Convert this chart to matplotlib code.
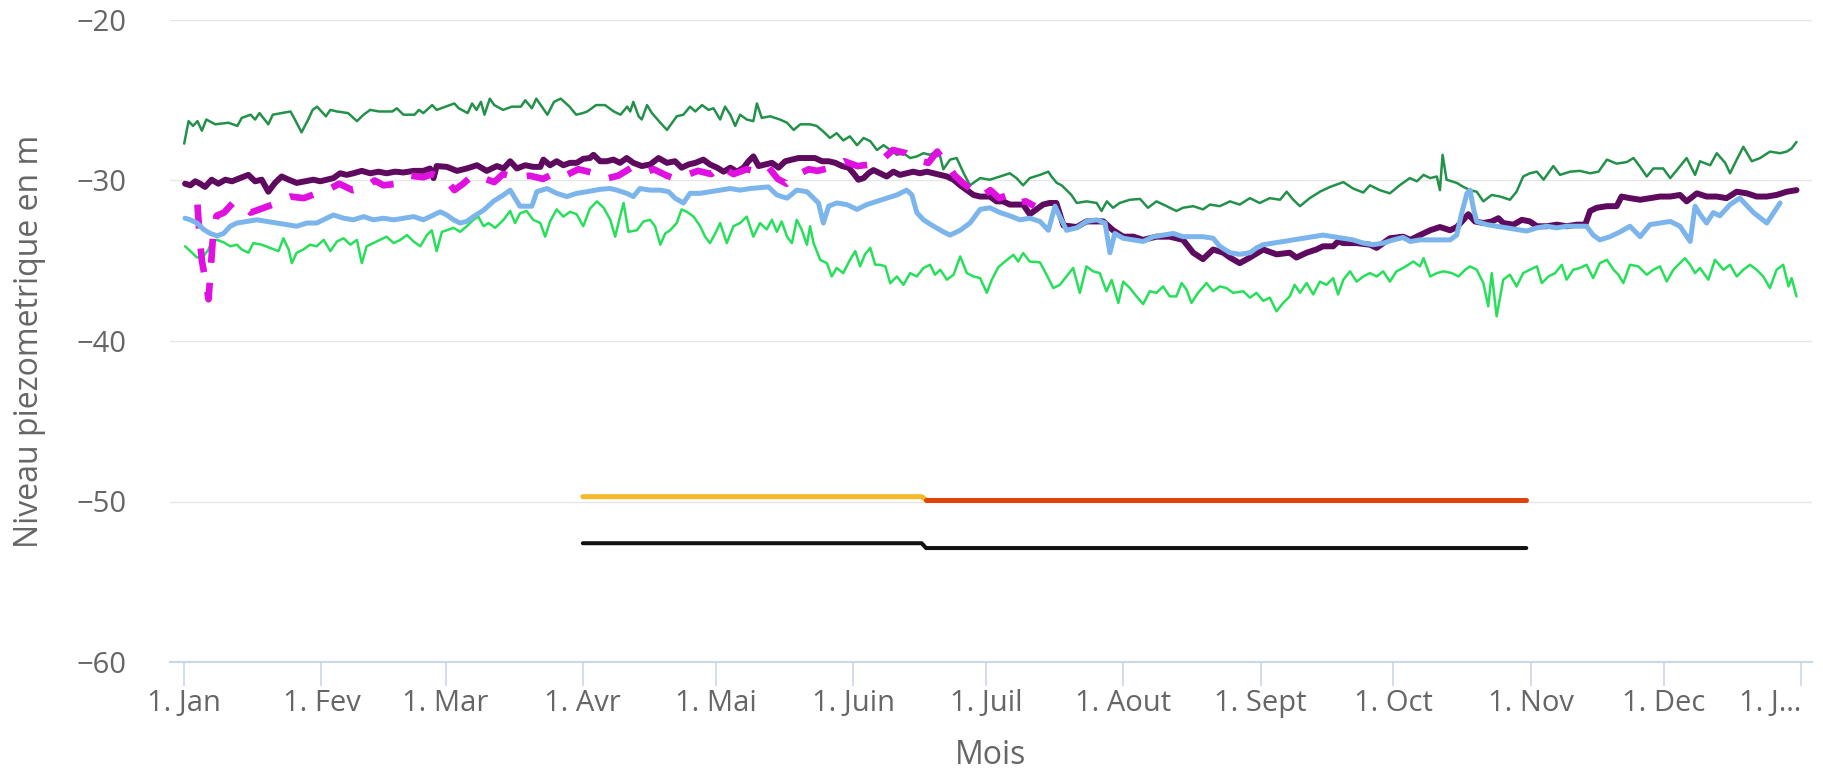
import numpy as np
import matplotlib
matplotlib.use("Agg")
import matplotlib.pyplot as plt

plt.rcParams['font.family'] = ['Open Sans', 'DejaVu Sans']

#### month ticks (day of year) and labels
month_days = [0, 31, 59, 90, 120, 151, 181, 212, 243, 273, 304, 334, 365]
month_labels = ["1. Jan", "1. Fev", "1. Mar", "1. Avr", "1. Mai", "1. Juin", "1. Juil",
                "1. Aout", "1. Sept", "1. Oct", "1. Nov", "1. Dec", "1. J\u2026"]
y_ticks = [-60, -50, -40, -30, -20]

#### upper envelope (dark green)
max_days = [0, 1, 2, 3, 4, 5, 7, 10, 12, 13, 15, 16, 17, 19, 20, 22, 24, 25, 26.5, 28, 29, 30, 32, 33,
            34.5, 37, 39, 40.5, 42, 44, 47, 48, 49.5, 52, 53, 54, 56, 57, 59, 61, 62, 64, 65, 66, 67,
            67.8, 69, 70, 72, 74, 76, 77, 78.5, 79.5, 80.5, 82, 83.5, 85, 87, 88.5, 90, 91, 93, 95, 97,
            98.5, 100, 100.7, 101.4, 102.6, 103.3, 104.5, 105.6, 107.5, 109, 111.2, 112.7, 114.2, 115.4,
            116.9, 118.4, 119.5, 121, 122.1, 123.3, 124.4, 125.5, 127, 128.5, 129.3, 130.4, 132.3, 134.5,
            136.1, 137.6, 139.1, 141.3, 142.8, 144.3, 145.8, 147.3, 148.8, 150.3, 151.9, 153.4, 154.9,
            156.4, 157.9, 159.4, 160.9, 162.4, 163.9, 165.4, 166.9, 168.4, 170.3, 171.4, 172.9, 174.4,
            175.9, 177.4, 179.7, 181.9, 184.2, 186.4, 187.9, 189.4, 190.9, 193.2, 195.1, 195.8, 197,
            198.1, 199.2, 200.3, 201.5, 203.7, 206, 207.1, 208.3, 209.7, 211.2, 213.5, 215.8, 217.6,
            219.5, 221.8, 224, 225.5, 227.8, 230, 231.6, 233.8, 236.1, 238.3, 240.6, 242.8, 245.1,
            247.4, 248.9, 250.4, 251.9, 254.1, 256.4, 258.7, 261.7, 263.9, 266.2, 267.7, 269.9, 272.2,
            274.4, 276.7, 278.3, 279.8, 281.3, 282.8, 283.5, 284.1, 285, 287.3, 288.8, 290.3, 291.8,
            293.3, 295.2, 297.1, 299.3, 300.8, 302.3, 303.8, 305.4, 306.9, 309.1, 310.6, 312.9, 315.1,
            317.4, 319.3, 321.2, 323.4, 325.7, 327.2, 328.7, 330.2, 331.7, 333.9, 335.5, 337, 339.2,
            341.1, 342.2, 344.5, 346, 347.9, 349, 350.5, 352, 353.9, 355.8, 358, 360.3, 361.8, 362.9, 364]
max_vals = [-27.7, -26.3, -26.6, -26.3, -26.9, -26.2, -26.5, -26.4, -26.6, -26.1, -25.9, -26.2, -25.8,
            -26.5, -25.9, -25.8, -25.7, -26.2, -27.0, -26.2, -25.6, -25.4, -26.0, -25.6, -25.7, -25.8,
            -26.3, -25.9, -25.6, -25.7, -25.7, -25.5, -25.9, -25.9, -25.6, -25.8, -25.3, -25.6, -25.4,
            -25.2, -25.5, -25.8, -25.2, -25.6, -25.1, -25.9, -24.9, -25.3, -25.6, -25.4, -25.4, -25.0,
            -25.5, -24.9, -25.3, -25.9, -25.1, -24.9, -25.4, -25.9, -25.8, -25.7, -25.3, -25.3, -25.7,
            -25.9, -25.4, -25.7, -25.1, -26.0, -26.2, -25.3, -25.8, -26.4, -26.85, -26.0, -25.9, -25.4,
            -25.7, -25.3, -25.6, -25.5, -26.2, -25.4, -25.9, -26.6, -25.9, -26.2, -26.3, -25.2, -26.1,
            -26.0, -26.2, -26.4, -26.85, -26.5, -26.5, -26.6, -26.95, -27.35, -27.05, -27.5, -27.25,
            -27.8, -27.35, -27.55, -28.1, -27.8, -28.1, -28.4, -28.3, -28.6, -28.5, -28.3, -28.4, -28.1,
            -29.3, -28.7, -28.6, -29.5, -30.3, -29.85, -29.95, -29.75, -29.55, -29.85, -30.3, -29.85,
            -29.65, -29.45, -29.75, -30.15, -30.3, -30.6, -30.9, -31.4, -31.3, -31.4, -31.9, -31.3,
            -31.7, -31.4, -31.2, -31.15, -31.7, -31.3, -31.6, -31.9, -31.7, -31.6, -31.8, -31.5, -31.6,
            -31.3, -31.5, -31.1, -31.4, -31.1, -31.2, -30.7, -31.2, -31.6, -31.1, -30.7, -30.4, -30.1,
            -30.5, -30.75, -30.3, -30.6, -30.8, -30.3, -29.85, -30.05, -29.65, -29.85, -29.75, -30.6,
            -28.4, -29.95, -30.15, -30.4, -30.6, -30.7, -31.3, -30.9, -31.0, -31.2, -30.7, -29.75,
            -29.55, -29.45, -29.95, -29.1, -29.65, -29.45, -29.4, -29.55, -29.45, -28.7, -28.95, -28.85,
            -28.6, -29.15, -29.75, -29.25, -29.25, -29.85, -29.35, -28.6, -29.65, -28.8, -29.05, -28.3,
            -28.9, -29.55, -28.7, -27.9, -28.8, -28.6, -28.2, -28.3, -28.2, -28.0, -27.6]

#### lower envelope (bright green)
min_days = [0.2, 1.4, 2.9, 4.4, 5.5, 6.2, 7.4, 8.9, 10.4, 11.9, 13, 14.5, 15.6, 17.5, 19.4, 21.3, 22.4,
            23.6, 24.3, 25.4, 26.9, 28.4, 29.9, 31.5, 33, 34.5, 36, 37.5, 39, 40.1, 41.2, 42.7, 44.2,
            45.7, 47.3, 48.8, 50.3, 51.8, 53.3, 54.8, 55.9, 57, 58.2, 59.3, 60.8, 62.3, 63.8, 65.3, 66.4,
            67.6, 68.7, 70.2, 72.1, 73.6, 74.7, 75.8, 77.3, 78.8, 80.4, 81.5, 82.6, 84.1, 85.6, 87.1,
            88.6, 90.1, 91.6, 93.2, 94.7, 96.2, 97.3, 98.4, 99.2, 100.3, 102.2, 103.7, 105.2, 106.3,
            107.5, 108.6, 109.7, 111.2, 112.3, 113.5, 115, 116.5, 117.6, 118.7, 119.9, 121, 122.5, 124,
            125.5, 127, 128.5, 130, 131.5, 132.7, 133.8, 134.9, 136.1, 137.2, 138.3, 139.4, 140.6, 141.3,
            142.1, 143.6, 145.1, 146.2, 147.3, 148.8, 150.3, 151.5, 152.6, 153.7, 154.9, 156, 157.1,
            158.3, 159.4, 160.9, 162.4, 163.9, 165.4, 166.9, 168.4, 169.5, 170.7, 172.2, 173.7, 175.2,
            176.7, 178.2, 179.7, 181.2, 182.3, 183.8, 185.3, 187.2, 188.3, 189.4, 190.9, 193.2, 194.7,
            196.2, 197.7, 199.2, 200.7, 202.2, 203.7, 205.2, 206.7, 208.2, 209.4, 210.9, 212, 213.5, 215,
            216.5, 218, 219.5, 221, 222.5, 224, 225.2, 226.3, 227.4, 228.9, 230.8, 232.3, 233.8, 235.3,
            236.8, 239.1, 240.6, 242.1, 243.6, 245.1, 246.6, 248.1, 249.6, 250.7, 251.9, 253.4, 254.9,
            256.4, 257.9, 259.4, 260.5, 261.7, 263.2, 264.7, 266.2, 267.7, 269.2, 270.7, 272.2, 273.7,
            275.2, 277.5, 279, 279.8, 281.3, 282.8, 284.3, 286.2, 287.7, 289.2, 290.3, 291.8, 293.3,
            294.4, 295.2, 296.3, 297.8, 299.3, 300.8, 302.3, 303.8, 305.4, 306.5, 308, 309.5, 311, 312.1,
            313.6, 315.1, 316.6, 318.1, 319.6, 321.2, 322.7, 323.8, 324.9, 326.4, 328.3, 330.2, 331.7,
            333.2, 334.7, 336.2, 337.7, 338.8, 340, 341.1, 342.2, 344.1, 345.6, 347.5, 349, 350.5, 352,
            353.5, 355, 356.5, 358, 359.5, 361, 362.2, 362.9, 364]
min_vals = [-34.1, -34.4, -34.8, -34.7, -34.3, -33.8, -33.7, -33.85, -34.1, -34.0, -34.3, -34.5, -33.9,
            -34.0, -34.2, -34.4, -33.6, -34.3, -35.15, -34.5, -34.3, -34.0, -34.1, -33.7, -34.4, -33.8,
            -33.6, -34.0, -33.7, -35.15, -34.1, -33.9, -33.7, -33.5, -33.9, -33.7, -33.4, -33.8, -34.1,
            -33.4, -33.1, -34.4, -33.2, -33.1, -32.95, -33.2, -32.85, -32.45, -32.25, -32.85, -32.65,
            -32.95, -32.45, -31.9, -32.65, -32.05, -31.9, -32.45, -32.65, -33.5, -32.55, -31.8, -32.25,
            -31.95, -32.1, -32.85, -31.75, -31.3, -31.7, -32.45, -33.5, -32.25, -31.4, -33.2, -33.1,
            -32.55, -32.45, -32.85, -34.0, -33.3, -33.1, -32.65, -31.8, -31.95, -32.25, -32.85, -33.5,
            -33.9, -33.3, -32.65, -33.9, -32.85, -32.65, -32.25, -33.5, -32.65, -33.05, -32.45, -33.2,
            -32.55, -33.5, -33.9, -32.45, -33.05, -34.0, -32.85, -33.9, -34.95, -35.15, -35.98, -35.45,
            -35.77, -34.95, -34.4, -35.35, -34.6, -34.2, -35.25, -35.25, -35.35, -36.4, -35.98, -36.5,
            -35.77, -35.98, -35.45, -35.25, -35.87, -35.56, -36.18, -35.87, -34.73, -35.77, -35.98,
            -36.08, -37.0, -36.2, -35.4, -35.05, -34.63, -35.05, -34.52, -35.05, -35.1, -35.87, -36.7,
            -36.5, -35.98, -35.45, -37.0, -35.35, -35.66, -35.77, -36.9, -36.2, -37.63, -36.3, -36.7,
            -37.22, -37.7, -36.9, -37.0, -36.6, -37.22, -37.22, -36.39, -36.8, -37.63, -37.0, -36.39,
            -36.9, -36.6, -36.7, -37.0, -36.9, -37.3, -37.0, -37.5, -37.3, -38.15, -37.63, -37.22, -36.5,
            -37.0, -36.39, -37.1, -36.3, -36.5, -36.08, -37.1, -36.18, -35.66, -36.3, -35.98, -35.77,
            -35.98, -35.66, -36.3, -35.66, -35.45, -35.05, -35.35, -34.84, -35.98, -35.77, -35.66, -35.77,
            -35.98, -35.56, -35.35, -35.56, -36.39, -37.84, -35.77, -38.46, -36.18, -35.87, -36.6, -35.77,
            -35.56, -35.35, -36.39, -35.98, -35.77, -35.25, -36.18, -35.56, -35.45, -35.25, -36.08,
            -35.15, -34.94, -35.56, -35.87, -36.39, -35.25, -35.35, -35.87, -35.56, -35.35, -36.29,
            -35.56, -35.15, -34.84, -35.25, -35.77, -35.45, -36.18, -34.94, -35.56, -35.25, -35.98,
            -35.56, -35.25, -35.56, -35.98, -36.7, -35.56, -35.25, -36.6, -36.08, -37.22]

#### mean level (dark purple)
mean_days = [0.2, 1.4, 2.5, 3.6, 4.7, 6.2, 7.7, 9.3, 10.8, 12.6, 14.5, 16, 17.5, 19, 20.5, 22, 23.6,
             25.4, 27.3, 29.2, 30.7, 32.2, 33.7, 35.2, 36.7, 38.2, 40.1, 42, 43.9, 45.7, 47.6, 49.5,
             51.8, 54, 55.5, 56.3, 57, 59.3, 61.6, 63.8, 66.1, 68.3, 70.6, 72.1, 73.6, 75.1, 77, 78.8,
             80.4, 81.1, 82.6, 84.1, 85.6, 87.1, 88.6, 90.1, 91.6, 92.4, 93.9, 95.4, 96.9, 98.4, 99.9,
             101.4, 103.3, 105.2, 107.1, 109, 110.8, 112.3, 113.9, 115.4, 117.2, 118.7, 120.3, 121.8,
             123.3, 124.8, 126.3, 127.4, 128.5, 129.7, 131.2, 132.7, 134.2, 135.7, 137.2, 138.7, 140.6,
             142.4, 144, 145.5, 147, 148.5, 150, 151.1, 152.2, 153.4, 154.5, 155.6, 157.1, 158.6, 160.1,
             161.6, 163.1, 164.6, 166.1, 167.7, 169.2, 170.7, 172.2, 173.7, 175.2, 176.7, 178.2, 179.7,
             181.9, 183.4, 184.9, 186.4, 187.9, 189.4, 190.9, 192.4, 193.9, 195.4, 196.9, 198.5, 201.5,
             203.7, 207.5, 209.7, 212, 214.3, 216.5, 219.5, 222.5, 225.5, 227.8, 230, 232.3, 234.6,
             236.1, 238.3, 240.6, 243.6, 246.6, 249.6, 251.1, 253.4, 255.6, 257.1, 259.4, 260.5, 261.7,
             264.7, 267.7, 269.2, 272.2, 275.2, 276.8, 279, 281.3, 283.5, 285.8, 287.3, 288.8, 289.9,
             291.4, 293.3, 295.2, 296.7, 297.8, 300.1, 302, 303.8, 305.4, 307.6, 309.9, 312.1, 314.4,
             316.3, 317.4, 318.9, 321.2, 323.4, 324.5, 326.4, 328.7, 330.9, 333.2, 335.5, 337.7, 339.2,
             341.5, 343.7, 346, 348.2, 350.5, 352.8, 355, 357.3, 359.5, 361.8, 364]
mean_vals = [-30.2, -30.3, -30.05, -30.2, -30.4, -29.95, -30.2, -29.95, -30.05, -29.85, -29.65, -30.05,
             -29.95, -30.7, -30.15, -29.75, -29.95, -30.15, -30.05, -29.95, -30.05, -29.95, -29.85,
             -29.55, -29.65, -29.55, -29.4, -29.55, -29.45, -29.55, -29.45, -29.5, -29.4, -29.4, -29.25,
             -29.85, -29.1, -29.15, -29.4, -29.25, -29.05, -29.4, -29.1, -29.25, -28.8, -29.25, -29.05,
             -29.15, -29.15, -28.7, -29.05, -28.8, -29.05, -28.9, -28.9, -28.65, -28.6, -28.4, -28.8,
             -28.8, -28.7, -28.9, -28.6, -28.9, -29.1, -29.0, -28.6, -28.9, -28.8, -29.2, -29.0, -28.9,
             -28.7, -29.0, -29.2, -29.45, -29.2, -29.45, -29.2, -28.8, -28.5, -29.1, -29.0, -28.9, -29.2,
             -28.8, -28.7, -28.6, -28.6, -28.6, -28.8, -28.8, -28.9, -29.1, -29.2, -29.55, -29.95,
             -29.85, -29.55, -29.35, -29.55, -29.75, -29.45, -29.65, -29.55, -29.45, -29.55, -29.45,
             -29.55, -29.65, -29.75, -29.95, -30.3, -30.6, -30.9, -31.0, -31.0, -31.3, -31.3, -31.5,
             -31.5, -31.5, -32.1, -31.8, -31.5, -31.4, -31.4, -32.8, -32.9, -32.55, -32.55, -33.1, -33.5,
             -33.5, -33.7, -33.5, -33.5, -33.7, -34.5, -34.9, -34.3, -34.5, -34.8, -35.15, -34.8, -34.3,
             -34.6, -34.5, -34.8, -34.5, -34.3, -34.1, -34.1, -33.8, -33.9, -33.9, -34.0, -34.2, -33.6,
             -33.5, -33.7, -33.4, -33.1, -32.9, -33.1, -32.9, -32.45, -32.1, -32.55, -32.65, -32.55,
             -32.35, -32.65, -32.75, -32.45, -32.55, -32.85, -32.85, -32.75, -32.85, -32.75, -32.75,
             -31.9, -31.7, -31.6, -31.6, -31.0, -31.1, -31.2, -31.1, -31.0, -31.0, -30.9, -31.3, -30.8,
             -31.0, -31.0, -31.1, -30.7, -30.8, -31.0, -31.0, -30.9, -30.7, -30.6]

#### current year, partial (magenta dashed)
year_days = [3, 3.5, 4, 5, 5.5, 6, 6.5, 7.3, 9, 11, 13, 15, 17, 20, 22, 24, 27, 30, 33, 35, 38, 41, 43,
             45, 48, 51, 54, 56, 59, 61, 63, 65, 68, 70, 72, 75, 78, 81, 84, 86, 89, 92, 95, 98, 101, 104,
             106, 109, 111, 114, 116, 119, 121, 124, 127, 130, 132, 134, 136, 138, 141, 143, 146, 149,
             152, 155, 158, 160, 163, 165, 168, 170, 172, 174, 176, 178, 180, 182, 184, 186, 188, 190, 192]
year_vals = [-31.5, -33.5, -35.0, -36.5, -37.4, -35.5, -33.5, -32.2, -32.0, -31.4, -31.5, -32.0, -31.8,
             -31.5, -31.2, -31.0, -31.1, -30.8, -30.5, -30.2, -30.6, -30.4, -30.0, -30.3, -30.2, -29.7,
             -29.8, -29.6, -29.9, -30.6, -30.2, -29.7, -29.9, -30.1, -29.6, -29.8, -29.7, -29.9, -29.5,
             -29.7, -29.3, -29.5, -29.9, -29.7, -29.2, -29.5, -29.3, -29.7, -29.9, -29.6, -29.4, -29.6,
             -29.1, -29.6, -29.3, -29.5, -29.2, -29.9, -30.2, -29.7, -29.3, -29.4, -29.2, -28.8, -29.1,
             -29.0, -28.6, -28.1, -28.3, -28.7, -28.9, -28.2, -28.9, -29.7, -30.2, -30.6, -31.0, -30.6,
             -31.1, -30.9, -31.4, -31.3, -31.6]

#### previous year (light blue)
prev_days = [0.2, 1.4, 2.9, 4.4, 5.9, 7.4, 8.9, 10.4, 11.9, 14.1, 16.4, 18.7, 20.9, 23.2, 25.4, 27.7,
             29.9, 32.2, 33.7, 36, 38.2, 40.5, 42.7, 45, 47.3, 49.5, 51.8, 54, 56.3, 57.8, 59.3, 60.8,
             62.3, 63.8, 65.3, 67.6, 69.8, 72.1, 73.6, 74.7, 75.8, 77.3, 78.5, 79.6, 81.9, 84.1, 86.4,
             88.6, 90.9, 93.9, 96.2, 97.7, 99.9, 101.4, 102.9, 105.2, 107.5, 109.4, 110.8, 112.7, 114.2,
             116.5, 118.7, 121, 123.3, 125.5, 127.8, 130, 131.9, 133.8, 136.1, 138.3, 140.6, 142.1,
             143.2, 144.3, 145.5, 147.3, 149.6, 151.9, 154.1, 156.4, 158.6, 160.9, 163.1, 164.3, 165.4,
             166.9, 169.2, 171.4, 172.9, 175.2, 177.4, 179.7, 181.9, 184.2, 186.4, 188.7, 190.9, 193.2,
             195.1, 196.6, 197.7, 199.2, 201.5, 203.7, 206, 207.9, 209, 210.1, 212, 214.3, 216.5, 218.8,
             221, 223.3, 225.5, 227.8, 230, 232.3, 233.8, 236.1, 238.3, 240.6, 242.1, 243.6, 245.9,
             248.1, 250.4, 252.6, 254.9, 257.1, 259.4, 261.7, 263.9, 266.2, 268.4, 270.7, 273, 275.2,
             276.8, 279, 281.3, 283.5, 285.8, 287.3, 288.4, 289.6, 290.3, 291.1, 291.8, 294.1, 296.3,
             298.6, 300.8, 303.1, 305.4, 307.6, 309.9, 312.1, 314.4, 316.6, 318.1, 319.6, 321.9, 324.2,
             326.4, 328.7, 330.9, 333.2, 335.5, 337.7, 340, 341.1, 342.2, 343.7, 345.2, 346.7, 349,
             351.2, 354.3, 357.3, 360.3]
prev_vals = [-32.35, -32.45, -32.65, -33.05, -33.3, -33.45, -33.3, -32.85, -32.65, -32.55, -32.45,
             -32.55, -32.65, -32.75, -32.85, -32.65, -32.65, -32.35, -32.15, -32.35, -32.45, -32.25,
             -32.45, -32.35, -32.45, -32.35, -32.25, -32.45, -32.15, -31.95, -32.15, -32.45, -32.65,
             -32.55, -32.25, -31.85, -31.3, -30.9, -30.6, -31.1, -31.6, -31.6, -31.6, -30.7, -30.5,
             -30.8, -31.0, -30.8, -30.7, -30.55, -30.5, -30.6, -30.8, -31.0, -30.5, -30.6, -30.6, -30.7,
             -31.1, -31.4, -30.8, -30.8, -30.7, -30.6, -30.5, -30.6, -30.5, -30.45, -30.4, -30.9, -31.1,
             -30.6, -30.7, -31.1, -31.4, -32.65, -31.6, -31.4, -31.5, -31.8, -31.5, -31.3, -31.1, -30.9,
             -30.6, -30.9, -32.0, -32.45, -32.85, -33.2, -33.4, -33.1, -32.65, -31.8, -31.7, -32.0, -32.2,
             -32.45, -32.35, -32.55, -33.1, -31.6, -32.25, -33.1, -32.95, -32.55, -32.45, -32.65, -34.5,
             -33.3, -33.6, -33.7, -33.8, -33.5, -33.4, -33.3, -33.5, -33.5, -33.5, -33.6, -34.1, -34.5,
             -34.6, -34.5, -34.2, -34.0, -33.9, -33.8, -33.7, -33.6, -33.5, -33.4, -33.5, -33.6, -33.7,
             -33.9, -34.0, -33.9, -33.7, -33.55, -33.8, -33.7, -33.7, -33.7, -33.7, -33.4, -32.05, -30.8,
             -30.6, -31.8, -32.55, -32.75, -32.85, -32.95, -33.05, -33.15, -32.95, -32.85, -32.95, -32.85,
             -32.85, -32.85, -33.4, -33.7, -33.5, -33.2, -32.85, -33.5, -32.75, -32.65, -32.55, -32.85,
             -33.8, -31.6, -32.1, -32.65, -32.0, -32.2, -31.5, -31.1, -32.0, -32.65, -31.4]

#### thresholds (Avr -> Nov)
alert_days = [90, 166.5, 167.5]
alert_vals = [-49.7, -49.7, -49.9]
crisis_days = [167.5, 303]
crisis_vals = [-49.9, -49.9]
limit_days = [90, 166.5, 167.5, 303]
limit_vals = [-52.6, -52.6, -52.9, -52.9]

W, H = 1823, 771
fig = plt.figure(figsize=(W / 100, H / 100), dpi=100)
ax = fig.add_axes([170 / W, 1 - 662 / H, (1812 - 170) / W, (662 - 20) / H])

round_kw = dict(solid_joinstyle='round', solid_capstyle='round')
ax.plot(max_days, max_vals, color='#24914a', lw=1.8, zorder=3, **round_kw)
ax.plot(min_days, min_vals, color='#27df5a', lw=1.8, zorder=3, **round_kw)
ax.plot(mean_days, mean_vals, color='#5e0a5e', lw=4.3, zorder=4, **round_kw)
ax.plot(year_days, year_vals, color='#e010e0', lw=4.8, zorder=5, dashes=(3.6, 3.0),
        dash_capstyle='butt', dash_joinstyle='round')
ax.plot(prev_days, prev_vals, color='#7cb5ec', lw=3.6, zorder=6, **round_kw)
ax.plot(alert_days, alert_vals, color='#f5b82a', lw=3.6, zorder=4, **round_kw)
ax.plot(crisis_days, crisis_vals, color='#e0420a', lw=3.6, zorder=4, **round_kw)
ax.plot(limit_days, limit_vals, color='#111111', lw=2.9, zorder=4, **round_kw)

#### axes styling (highcharts look)
ax.set_xlim(-3.2, 367.5)
ax.set_ylim(-60, -20)
ax.set_yticks(y_ticks)
ax.set_xticks(month_days)
ax.set_xticklabels(month_labels)
ax.grid(axis='y', color='#e6e6e6', lw=1.0, zorder=0)
ax.set_axisbelow(True)
for s in ['top', 'right', 'left']:
    ax.spines[s].set_visible(False)
ax.spines['bottom'].set_color('#ccd6eb')
ax.spines['bottom'].set_linewidth(1.5)
ax.tick_params(axis='x', length=17, width=1.2, color='#ccd6eb', pad=2.5,
               labelsize=21, labelcolor='#666666')
ax.tick_params(axis='y', length=0, pad=31, labelsize=21, labelcolor='#666666')

# last label is clipped in the original, keep it inside the figure
ax.get_xticklabels()[-1].set_horizontalalignment('right')

fig.text(30 / W, 1 - 341 / H, "Niveau piezometrique en m", rotation=90,
         ha='center', va='center', fontsize=23, color='#666666')
fig.text(991 / W, 1 - 756 / H, "Mois", ha='center', va='center', fontsize=23, color='#666666')

fig.savefig("out.png", dpi=100, facecolor='white')
